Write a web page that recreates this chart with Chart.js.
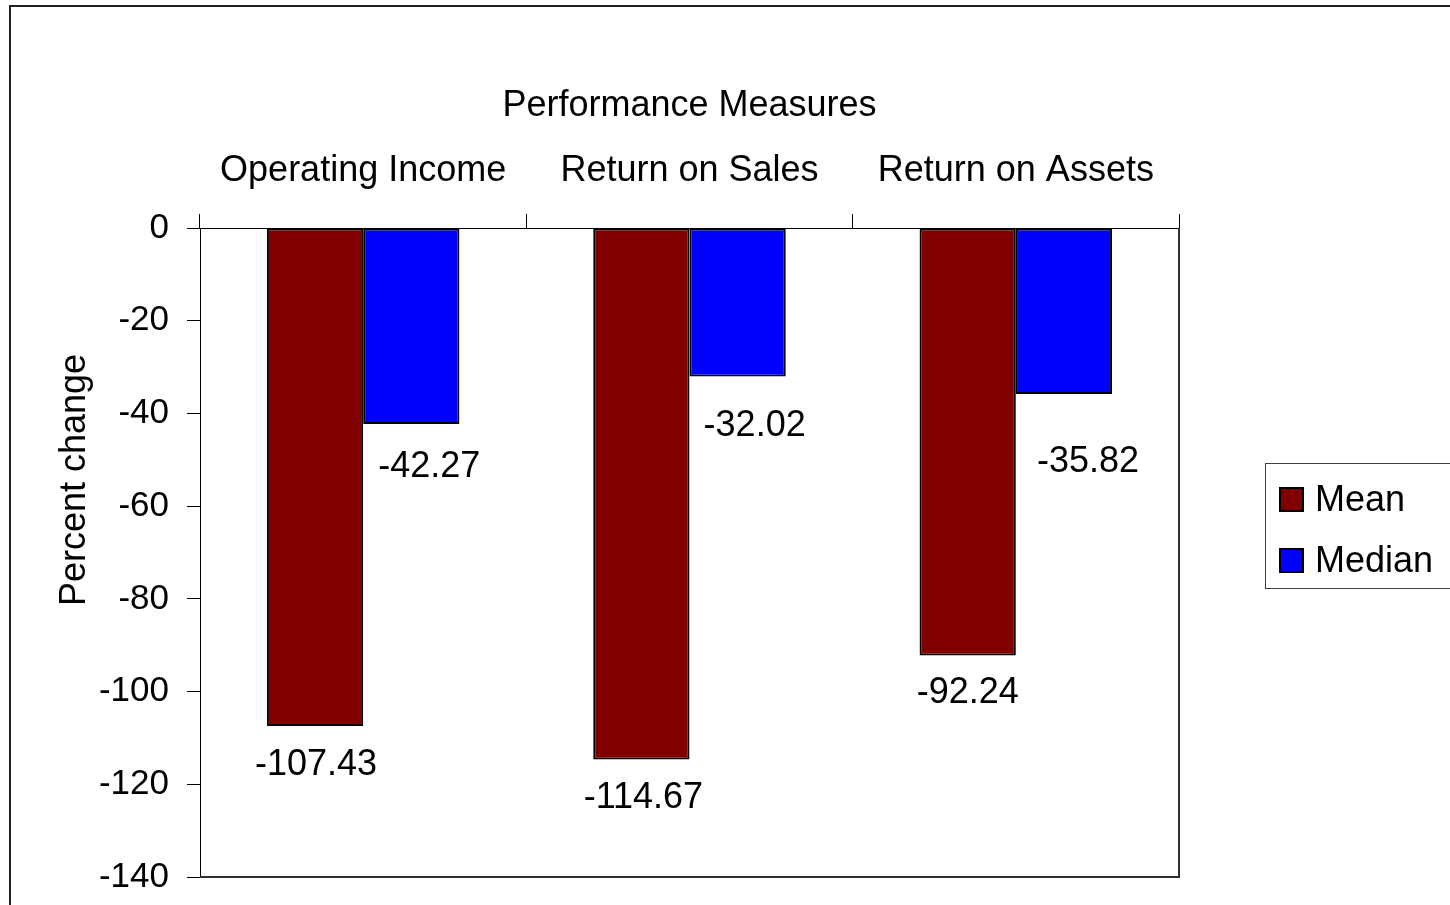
<!DOCTYPE html>
<html>
<head>
<meta charset="utf-8">
<title>Performance Measures</title>
<script src="https://cdn.jsdelivr.net/npm/chart.js@4.4.1/dist/chart.umd.min.js"></script>
<style>
    html, body { margin: 0; padding: 0; background: #fff; }
    #chartBox { width: 1450px; height: 905px; }
</style>
</head>
<body>
<div id="chartBox"><canvas id="perfChart" width="1450" height="905"></canvas></div>
<script>
// chart values
const categories = [ 'Operating Income', 'Return on Sales', 'Return on Assets' ];
const meanValues = [ -107.43, -114.67, -92.24 ];
const medianValues = [ -42.27, -32.02, -35.82 ];
const yTicks = [ 0, -20, -40, -60, -80, -100, -120, -140 ];

const FONT = "'Liberation Sans', Arial, sans-serif";

// outer frame, plot border on right/bottom, y axis title
const framePlugin = {
    id : 'frame',
    beforeDraw(chart) {
        const c = chart.ctx;
        c.save();
        c.fillStyle = '#fff';
        c.fillRect(0, 0, chart.width, chart.height);
        c.strokeStyle = '#202020';
        c.lineWidth = 2;
        c.strokeRect(10, 6, chart.width + 50, chart.height + 50);
        c.restore();
    },
    afterDraw(chart, args, opts) {
        const a = chart.chartArea;
        const c = chart.ctx;
        c.save();
        c.strokeStyle = '#303030';
        c.lineWidth = 2;
        c.beginPath();
        c.moveTo(a.right, a.top);
        c.lineTo(a.right, a.bottom);
        c.lineTo(a.left, a.bottom);
        c.stroke();

        // y title sits a bit above the middle of the axis in the original
        c.translate(opts.yTitleX, opts.yTitleY);
        c.rotate(-Math.PI / 2);
        c.font = `36px ${FONT}`;
        c.fillStyle = '#000';
        c.textAlign = 'center';
        c.textBaseline = 'middle';
        c.fillText(opts.yTitle, 0, 0);
        c.restore();
    }
};

// value labels under the bar ends (Excel style)
const valueLabelPlugin = {
    id : 'valueLabels',
    afterDatasetsDraw(chart, args, opts) {
        const c = chart.ctx;
        c.save();
        c.font = `36px ${FONT}`;
        c.fillStyle = '#000';
        c.textAlign = 'center';
        c.textBaseline = 'middle';
        chart.data.datasets.forEach((ds, i) => {
            const meta = chart.getDatasetMeta(i);
            meta.data.forEach((bar, j) => {
                const shift = opts.shifts[i][j];
                c.fillText(ds.data[j].toFixed(2), bar.x + shift[0], bar.y + shift[1]);
            });
        });
        c.restore();
    }
};

// boxed legend, partly cut off on the right like the original
const boxLegendPlugin = {
    id : 'boxLegend',
    afterDraw(chart, args, opts) {
        const c = chart.ctx;
        c.save();
        c.strokeStyle = '#404040';
        c.lineWidth = 1;
        c.strokeRect(opts.x + 0.5, opts.y + 0.5, 400, opts.h);
        c.font = `36px ${FONT}`;
        c.textBaseline = 'middle';
        c.textAlign = 'left';
        chart.data.datasets.forEach((ds, i) => {
            const cy = opts.y + opts.firstRow + i * opts.rowGap;
            c.fillStyle = ds.backgroundColor;
            c.fillRect(opts.x + 15, cy - 12, 23, 23);
            c.strokeStyle = '#000';
            c.lineWidth = 2;
            c.strokeRect(opts.x + 15, cy - 12, 23, 23);
            c.fillStyle = '#000';
            c.fillText(ds.label, opts.x + 50, cy + 1);
        });
        c.restore();
    }
};

new Chart(document.getElementById('perfChart').getContext('2d'), {
    type : 'bar',
    data : {
        labels : categories,
        datasets : [ {
            label : 'Mean',
            data : meanValues,
            backgroundColor : '#800000',
            borderColor : '#000',
            borderWidth : 2,
            borderSkipped : false
        }, {
            label : 'Median',
            data : medianValues,
            backgroundColor : '#0000ff',
            borderColor : '#000',
            borderWidth : 2,
            borderSkipped : false
        } ]
    },
    plugins : [ framePlugin, valueLabelPlugin, boxLegendPlugin ],
    options : {
        responsive : false,
        animation : false,
        devicePixelRatio : 1,
        categoryPercentage : 0.59,
        barPercentage : 1,
        layout : {
            padding : { left : 0, top : 0, right : 271, bottom : 28 }
        },
        plugins : {
            legend : { display : false },
            tooltip : { enabled : false },
            frame : { yTitle : 'Percent change', yTitleX : 75, yTitleY : 480 },
            valueLabels : {
                shifts : [
                    [ [ 1, 39 ], [ 2, 39 ], [ 0, 37 ] ],
                    [ [ 18, 43 ], [ 17, 50 ], [ 24, 68 ] ]
                ]
            },
            boxLegend : { x : 1265, y : 463, h : 125, firstRow : 37, rowGap : 61 }
        },
        scales : {
            x : {
                position : 'top',
                afterFit(scale) {
                    scale.height = 228;
                    scale.paddingLeft = 0;
                    scale.paddingRight = 0;
                },
                grid : {
                    offset : true,
                    drawOnChartArea : false,
                    color : '#000',
                    tickLength : 14
                },
                border : { color : '#000', width : 1 },
                ticks : {
                    color : '#000',
                    padding : 21,
                    maxRotation : 0,
                    font : { family : FONT, size : 36 }
                },
                title : {
                    display : true,
                    text : 'Performance Measures',
                    color : '#000',
                    padding : { top : 84, bottom : 0 },
                    font : { family : FONT, size : 36 }
                }
            },
            y : {
                min : -140,
                max : 0,
                afterFit(scale) {
                    scale.width = 200;
                    scale.paddingTop = 0;
                    scale.paddingBottom = 0;
                },
                afterBuildTicks(scale) {
                    scale.ticks = yTicks.map(v => ({ value : v }));
                },
                grid : {
                    drawOnChartArea : false,
                    color : '#000',
                    tickLength : 13
                },
                border : { color : '#000', width : 1 },
                ticks : {
                    color : '#000',
                    padding : 18,
                    font : { family : FONT, size : 35 }
                },
                title : { display : false }
            }
        }
    }
});
</script>
</body>
</html>
